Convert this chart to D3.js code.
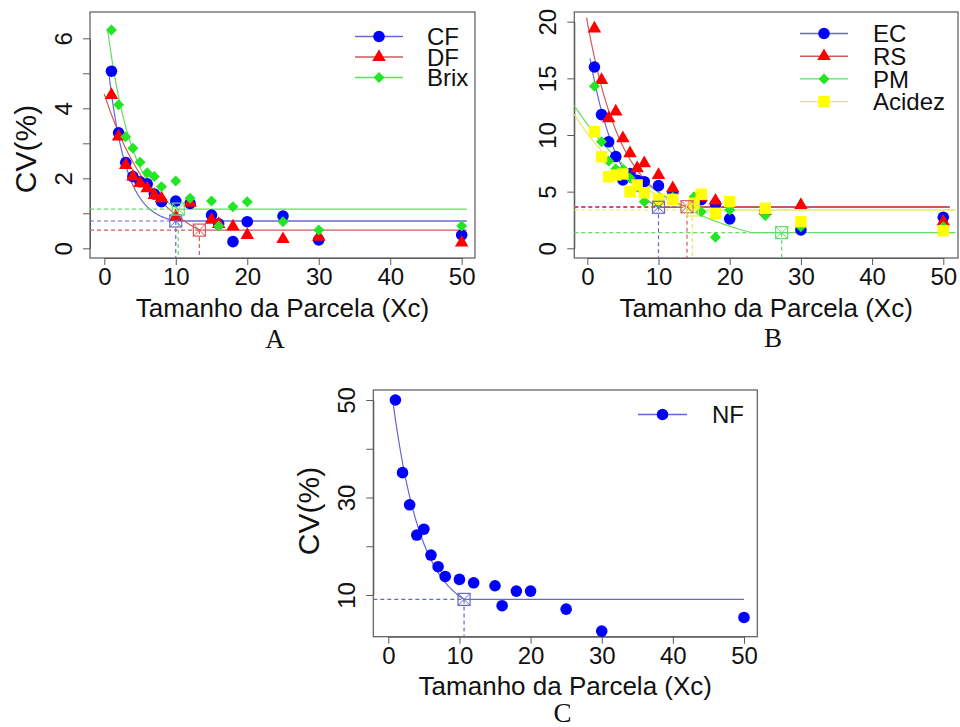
<!DOCTYPE html>
<html><head><meta charset="utf-8">
<script src="https://cdn.jsdelivr.net/npm/d3@7"></script>
<style>
body{margin:0;background:#fff;}
text{font-family:"Liberation Sans",Arial,sans-serif;fill:#111;}
</style></head>
<body>
<script>
// ---------------- DATA ----------------
const plotSize = [1,2,3,4,5,6,7,8,10,12,15,16,18,20,25,30,50];
const xTicks = [0,10,20,30,40,50];

// Panel A
const cvCF   = [5.06,3.30,2.45,2.05,1.90,1.84,1.55,1.33,1.35,1.28,0.95,0.70,0.19,0.76,0.92,0.24,0.38];
const cvDF   = [4.38,3.19,2.38,2.05,1.86,1.71,1.52,1.43,0.90,1.30,0.81,0.69,0.62,0.38,0.26,0.33,0.16];
const cvBrix = [6.24,4.10,3.19,2.86,2.46,2.16,2.05,1.76,1.92,1.43,1.35,0.64,1.19,1.33,0.76,0.52,0.64];
const yTicksA = [0,1,2,3,4,5,6];
const yLabelsA = [0,2,4,6];

// Panel B
const cvEC     = [16.0,11.8,9.4,8.1,6.03,6.6,6.0,5.88,5.53,4.85,4.0,4.3,3.9,2.6,3.3,1.62,2.73];
const cvRS     = [19.4,14.85,11.47,12.06,9.71,8.38,7.06,7.5,6.47,5.3,4.3,4.5,4.2,3.9,3.3,3.82,2.35];
const cvPM     = [14.3,9.4,7.7,7.0,6.9,6.2,5.4,4.1,4.0,4.5,4.55,3.23,0.97,3.38,2.9,1.9,1.9];
const cvAcidez = [10.3,8.08,6.32,6.47,6.56,5.0,5.59,4.9,4.32,4.32,3.97,4.77,3.09,4.11,3.53,2.35,1.55];
const yTicksB = [0,5,10,15,20];
const yLabelsB = [0,5,10,15,20];

// Panel C
const cvNF = [50.0,35.1,28.5,22.3,23.5,18.2,15.8,13.8,13.2,12.5,11.9,7.8,10.8,10.8,7.1,2.6,5.4];
const yTicksC = [10,20,30,40,50];
const yLabelsC = [10,30,50];

// Fitted model (CV = P + A*exp(-k*X)) : [P, A, k, xStart, xEnd]
const fitCF   = [0.68, 5.58, 0.40, 0.56, 10.0];
const fitDF   = [-0.25, 4.66, 0.135, 0.0, 13.3];
const fitBrix = [0.80, 6.21, 0.282, 0.47, 10.35];
const fitEC   = [2.0, 16.14, 0.233, 0.38, 10.0];
const fitRS   = [2.6, 17.4, 0.20, -0.1, 14.0];
const fitPM   = [-1.0, 11.96, 0.07, -1.83, 23.1];
const fitAcid = [1.0, 9.15, 0.092, -1.83, 14.75];
const fitNF   = [5.3, 52.1, 0.246, 0.62, 10.65];

// Plateau: [Xc, CV plateau]
const platCF = [10.0, 0.78], platDF = [13.3, 0.52], platBrix = [10.35, 1.12];
const platEC = [10.0, 3.62], platRS = [14.0, 3.67], platPM = [27.3, 1.38], platAcid = [14.75, 3.38];
const platNF = [10.65, 9.1];

const legendA = ["CF","DF","Brix"];
const legendB = ["EC","RS","PM","Acidez"];
const legendC = ["NF"];

// ---------------- STYLE ----------------
const COL = {
  blue:{pt:"#0000ff", ln:"#6767d2"},
  red:{pt:"#ff0000", ln:"#d25a5a"},
  green:{pt:"#22e622", ln:"#62dc62"},
  yellow:{pt:"#ffff00", ln:"#e9e95a"}
};
const AXC = "#5a5a5a";

const svg = d3.select("body").append("svg").attr("width",960).attr("height",727);

function marker(g, shape, cx, cy, fill){
  if(shape==="circle"){
    g.append("circle").attr("cx",cx).attr("cy",cy).attr("r",5.8).attr("fill",fill);
  } else if(shape==="triangle"){
    const s=13.5, h=s*Math.sqrt(3)/2;
    g.append("path").attr("d",`M${cx},${cy-h*2/3}L${cx+s/2},${cy+h/3}L${cx-s/2},${cy+h/3}Z`).attr("fill",fill);
  } else if(shape==="diamond"){
    const r=5.5;
    g.append("path").attr("d",`M${cx},${cy-r}L${cx+r},${cy}L${cx},${cy+r}L${cx-r},${cy}Z`).attr("fill",fill);
  } else if(shape==="square"){
    const r=5.7;
    g.append("rect").attr("x",cx-r).attr("y",cy-r).attr("width",2*r).attr("height",2*r).attr("fill",fill);
  }
}

function panel(cfg){
  const x = d3.scaleLinear().domain([0,50]).range(cfg.xr);
  const y = d3.scaleLinear().domain(cfg.yd).range(cfg.yr);
  const b = cfg.box;
  const g = svg.append("g");

  // axes
  const gx = g.append("g").attr("transform",`translate(0,${b.b})`)
    .call(d3.axisBottom(x).tickValues(xTicks).tickSize(7).tickSizeOuter(0).tickPadding(3));
  gx.selectAll("text").attr("font-size",24).style("font-family","Liberation Sans, Arial, sans-serif");
  const gy = g.append("g").attr("transform",`translate(${b.l},0)`)
    .call(d3.axisLeft(y).tickValues(cfg.yTicks).tickSize(7).tickSizeOuter(0)
      .tickFormat(d => cfg.yLabels.includes(d) ? d : ""));
  gy.selectAll("text").attr("x",null).attr("dy","0.36em").attr("text-anchor","middle")
    .attr("transform","translate(-26.7,0) rotate(-90)").attr("font-size",24)
    .style("font-family","Liberation Sans, Arial, sans-serif");
  g.selectAll(".domain, .tick line").attr("stroke",AXC);
  g.append("rect").attr("x",b.l).attr("y",b.t).attr("width",b.r-b.l).attr("height",b.b-b.t)
    .attr("fill","none").attr("stroke",AXC).attr("stroke-width",1.2);

  // fitted curves + plateau
  cfg.series.forEach(s=>{
    const [P,A,k,x0,x1] = s.fit;
    const xs = d3.range(0,101).map(i => x0 + (x1-x0)*i/100);
    const line = d3.line().x(d=>x(d)).y(d=>y(P + A*Math.exp(-k*d)));
    g.append("path").attr("d",line(xs)).attr("fill","none").attr("stroke",s.col.ln).attr("stroke-width",1.2);
    const [xc,pv] = s.plat;
    const pStart = Math.min(xc,x1);
    g.append("line").attr("x1",x(pStart)).attr("x2",x(s.platEnd)).attr("y1",y(pv)).attr("y2",y(pv))
      .attr("stroke",s.col.ln).attr("stroke-width",1.4);
    g.append("line").attr("x1",b.l).attr("x2",x(xc)).attr("y1",y(pv)).attr("y2",y(pv))
      .attr("stroke",s.col.ln).attr("stroke-width",1.2).attr("stroke-dasharray","4,3");
    g.append("line").attr("x1",x(xc)).attr("x2",x(xc)).attr("y1",y(pv)).attr("y2",b.b)
      .attr("stroke",s.col.ln).attr("stroke-width",1.2).attr("stroke-dasharray","4,3");
  });
  // points
  cfg.series.forEach(s=>{
    const pg = g.append("g");
    plotSize.forEach((px,i)=> marker(pg, s.shape, x(px), y(s.vals[i]), s.col.pt));
  });
  // Xc squares
  cfg.series.forEach(s=>{
    const [xc,pv] = s.plat; const cx=x(xc), cy=y(pv), r=6;
    g.append("rect").attr("x",cx-r).attr("y",cy-r).attr("width",2*r).attr("height",2*r)
      .attr("fill","none").attr("stroke",s.col.ln).attr("stroke-width",1.2);
    g.append("path").attr("d",`M${cx-r},${cy-r}L${cx+r},${cy+r}M${cx+r},${cy-r}L${cx-r},${cy+r}`)
      .attr("stroke",s.col.ln).attr("stroke-width",1);
  });

  // legend
  const L = cfg.legend;
  cfg.series.forEach((s,i)=>{
    const ly = L.y0 + i*L.dy;
    g.append("line").attr("x1",L.x1).attr("x2",L.x2).attr("y1",ly).attr("y2",ly)
      .attr("stroke",s.col.ln).attr("stroke-width",1.4);
    marker(g, s.shape, (L.x1+L.x2)/2, ly, s.col.pt);
    g.append("text").attr("x",L.tx).attr("y",ly).attr("dy","0.36em").attr("font-size",24).text(s.name);
  });

  // titles
  g.append("text").attr("x",(b.l+b.r)/2).attr("y",cfg.xTitleY).attr("text-anchor","middle")
    .attr("font-size",26).text("Tamanho da Parcela (Xc)");
  if(cfg.yTitle){
    g.append("text").attr("transform",`translate(${cfg.yTitle[0]},${cfg.yTitle[1]}) rotate(-90)`)
      .attr("text-anchor","middle").attr("dy","0.36em").attr("font-size",30).text("CV(%)");
  }
  g.append("text").attr("x",cfg.tag[0]).attr("y",cfg.tag[1]).attr("text-anchor","middle")
    .attr("font-size",27).style("font-family","Liberation Serif, Times New Roman, serif").text(cfg.tagText);
}

panel({
  xr:[104.3,461.7], yd:[0,6], yr:[248.3,38.3], box:{l:90,t:12,r:475,b:258},
  yTicks:yTicksA, yLabels:yLabelsA,
  series:[
    {name:legendA[0], vals:cvCF, shape:"circle", col:COL.blue, fit:fitCF, plat:platCF, platEnd:50.7},
    {name:legendA[1], vals:cvDF, shape:"triangle", col:COL.red, fit:fitDF, plat:platDF, platEnd:50.7},
    {name:legendA[2], vals:cvBrix, shape:"diamond", col:COL.green, fit:fitBrix, plat:platBrix, platEnd:50.7}
  ],
  legend:{x1:355,x2:403,tx:427,y0:36.5,dy:20.5},
  xTitleY:317, yTitle:[25,149], tag:[275,348], tagText:"A"
});

panel({
  xr:[587.3,943.3], yd:[0,20], yr:[248.3,21.7], box:{l:574.3,t:12,r:958,b:258},
  yTicks:yTicksB, yLabels:yLabelsB,
  series:[
    {name:legendB[0], vals:cvEC, shape:"circle", col:COL.blue, fit:fitEC, plat:platEC, platEnd:50.9},
    {name:legendB[1], vals:cvRS, shape:"triangle", col:COL.red, fit:fitRS, plat:platRS, platEnd:50.9},
    {name:legendB[2], vals:cvPM, shape:"diamond", col:COL.green, fit:fitPM, plat:platPM, platEnd:51.7},
    {name:legendB[3], vals:cvAcidez, shape:"square", col:COL.yellow, fit:fitAcid, plat:platAcid, platEnd:51.7}
  ],
  legend:{x1:800,x2:848,tx:873,y0:33.5,dy:22.7},
  xTitleY:317, yTitle:null, tag:[773,347], tagText:"B"
});

panel({
  xr:[388.3,744], yd:[10,50], yr:[595,400], box:{l:373.3,t:390,r:757.3,b:636.7},
  yTicks:yTicksC, yLabels:yLabelsC,
  series:[
    {name:legendC[0], vals:cvNF, shape:"circle", col:COL.blue, fit:fitNF, plat:platNF, platEnd:50}
  ],
  legend:{x1:638,x2:687,tx:712,y0:414.5,dy:22},
  xTitleY:695, yTitle:[308,511], tag:[562.5,722], tagText:"C"
});
</script>
</body></html>
